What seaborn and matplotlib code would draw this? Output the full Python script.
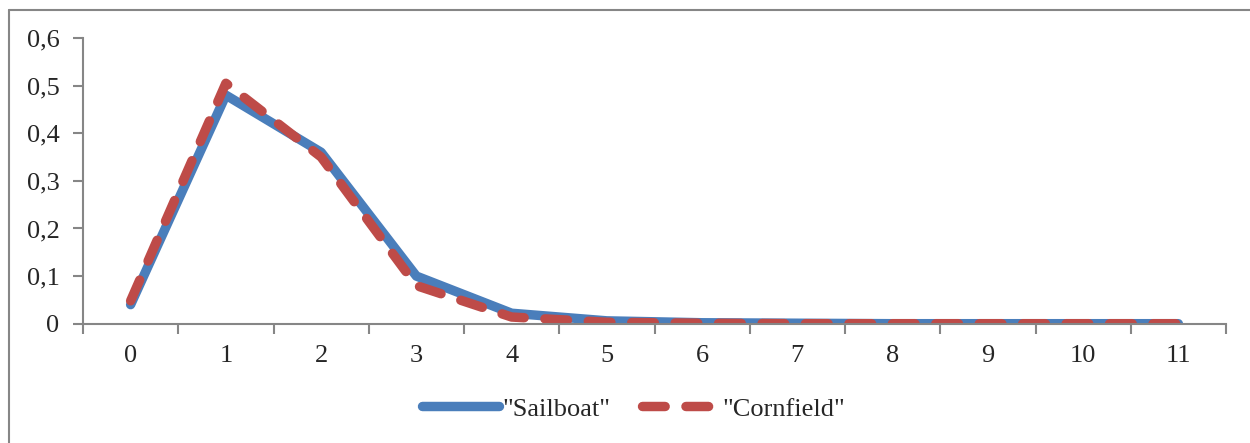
import pandas as pd
import seaborn as sns
import matplotlib.pyplot as plt
from matplotlib.lines import Line2D
from matplotlib.ticker import FuncFormatter, FixedLocator

categories = list(range(12))
sailboat = [0.04, 0.48, 0.36, 0.10, 0.022, 0.006, 0.002, 0.001, 0.0, 0.0, 0.0, 0.0]
cornfield = [0.048, 0.505, 0.35, 0.08, 0.014, 0.003, 0.001, 0.0, 0.0, 0.0, 0.0, 0.0]
series_names = ['"Sailboat"', '"Cornfield"']
y_ticks = [0, 0.1, 0.2, 0.3, 0.4, 0.5, 0.6]

sns.set_style("white")
plt.rcParams['font.family'] = ['Liberation Serif', 'DejaVu Serif']

df = pd.DataFrame({'x': categories, 'Sailboat': sailboat, 'Cornfield': cornfield})

fig = plt.figure(figsize=(12.5, 4.43), dpi=100)
ax = fig.add_axes([0.0664, 0.2693, 0.9808 - 0.0664, 0.9142 - 0.2693])

axis_gray = '#868686'
fs = 19

sns.lineplot(data=df, x='x', y='Sailboat', ax=ax, color='#4A7EBB', linewidth=6.8,
             label=series_names[0], solid_capstyle='round', solid_joinstyle='round')
sns.lineplot(data=df, x='x', y='Cornfield', ax=ax, color='#BE4B48', linewidth=6.8,
             label=series_names[1])
ax.lines[1].set_dashes([2.4, 2.2])
ax.lines[1].set_dash_capstyle('round')
ax.lines[1].set_dash_joinstyle('round')

ax.set_xlim(-0.5, 11.5)
ax.set_ylim(0, 0.6)
ax.set_xlabel(None)
ax.set_ylabel(None)

ax.xaxis.set_major_locator(FixedLocator(categories))
ax.xaxis.set_minor_locator(FixedLocator([c - 0.5 for c in categories] + [11.5]))
ax.set_xticklabels([str(c) for c in categories])
ax.tick_params(axis='x', which='major', length=0, pad=15, labelsize=fs)
ax.tick_params(axis='x', which='minor', length=7, width=1.5, color=axis_gray, direction='out', bottom=True)

ax.set_yticks(y_ticks)
ax.yaxis.set_major_formatter(FuncFormatter(lambda v, p: ('%g' % round(v, 1)).replace('.', ',')))
ax.tick_params(axis='y', which='major', length=7, width=1.5, color=axis_gray, direction='out', left=True, pad=10, labelsize=fs)

for side in ['top', 'right']:
    ax.spines[side].set_visible(False)
for side in ['left', 'bottom']:
    ax.spines[side].set_color(axis_gray)
    ax.spines[side].set_linewidth(1.5)

leg = ax.legend(loc='center', bbox_to_anchor=(0.507, 0.077), bbox_transform=fig.transFigure,
                ncol=2, frameon=False, fontsize=fs, handlelength=2.9, handletextpad=0.15,
                columnspacing=1.2)
leg.get_lines()[1].set_dashes([2.4, 2.2])
leg.get_lines()[1].set_dash_capstyle('round')

# chart area border (top and left visible)
fig.add_artist(Line2D([8.5 / 1250, 1.0], [1 - 10 / 443, 1 - 10 / 443], transform=fig.transFigure,
                      color=axis_gray, linewidth=1.5))
fig.add_artist(Line2D([8.5 / 1250, 8.5 / 1250], [0, 1 - 10 / 443], transform=fig.transFigure,
                      color=axis_gray, linewidth=1.5))

plt.savefig('out.png', dpi=100)
